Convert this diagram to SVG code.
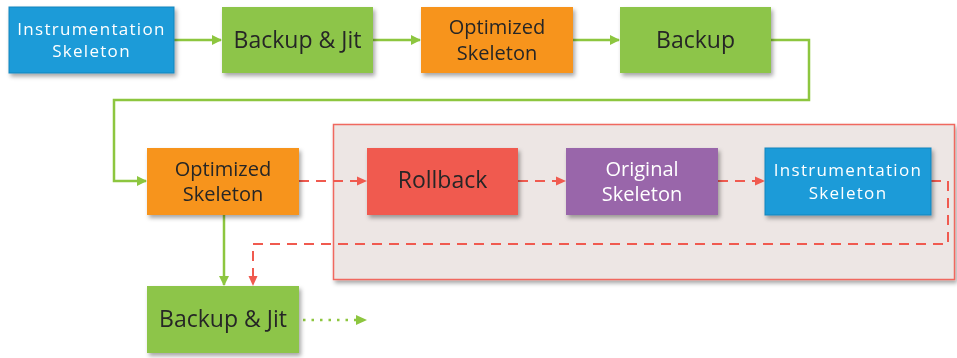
<svg xmlns="http://www.w3.org/2000/svg" width="957" height="358" viewBox="0 0 957 358">
<style>
text{font-family:"Open Sans","Noto Sans","DejaVu Sans",sans-serif;text-anchor:middle}
.dk{fill:#262626}
.wt{fill:#ffffff}
.big{font-size:23px}
.mid{font-size:20px}
.ins{font-size:17px;letter-spacing:1.3px}
.box{filter:url(#sh)}
.g{stroke:#8dc63f;stroke-width:2.5;fill:none}
.r{stroke:#f05a4f;stroke-width:2;fill:none;stroke-dasharray:10 7}
.dot{stroke:#8dc63f;stroke-width:2.5;fill:none;stroke-dasharray:2.5 6}
</style>
<defs>
<filter id="sh" x="-10%" y="-10%" width="125%" height="135%">
<feDropShadow dx="2" dy="3" stdDeviation="2" flood-color="#000" flood-opacity="0.35"/>
</filter>
<marker id="ag" markerWidth="10" markerHeight="10" refX="9" refY="5" orient="auto" markerUnits="userSpaceOnUse">
<path d="M0,0 L10,5 L0,10 Z" fill="#8dc63f"/>
</marker>
<marker id="ar" markerWidth="10" markerHeight="10" refX="9" refY="5" orient="auto" markerUnits="userSpaceOnUse">
<path d="M0,0.5 L10,5 L0,9.5 Z" fill="#f05a4f"/>
</marker>
</defs>
<rect x="0" y="0" width="957" height="358" fill="#ffffff"/>

<g id="rollback-region">
<rect x="333.5" y="124.5" width="621" height="155" fill="#ede6e4" stroke="#f0685e" stroke-width="1.5" filter="url(#sh)"/>
</g>

<g id="connectors">
<line class="g" x1="174" y1="40" x2="221" y2="40" marker-end="url(#ag)"/>
<line class="g" x1="373" y1="40" x2="420" y2="40" marker-end="url(#ag)"/>
<line class="g" x1="573" y1="40" x2="619" y2="40" marker-end="url(#ag)"/>
<polyline class="g" points="771,40 809,40 809,100 114,100 114,181 146,181" marker-end="url(#ag)"/>
<line class="g" x1="224" y1="215" x2="224" y2="285" marker-end="url(#ag)"/>
<line class="r" x1="299" y1="181" x2="366" y2="181" marker-end="url(#ar)"/>
<line class="r" x1="518" y1="181" x2="565" y2="181" marker-end="url(#ar)"/>
<line class="r" x1="718" y1="181" x2="764" y2="181" marker-end="url(#ar)"/>
<polyline class="r" points="931,181 948,181 948,244 253,244 253,285" marker-end="url(#ar)"/>
<line class="dot" x1="303" y1="320" x2="358" y2="320"/>
<path d="M356,315 L367,320 L356,325 Z" fill="#8dc63f"/>
</g>

<g id="n1" class="box">
<rect x="9" y="7" width="165" height="66" fill="#1a9bd8" stroke="#1585bd" stroke-width="1"/>
<text class="wt ins" x="91.5" y="35">Instrumentation</text>
<text class="wt ins" x="91.5" y="57">Skeleton</text>
</g>
<g id="n2" class="box">
<rect x="222" y="7" width="151" height="66" fill="#8dc54a"/>
<text class="dk big" x="297.5" y="48">Backup &amp; Jit</text>
</g>
<g id="n3" class="box">
<rect x="421" y="7" width="152" height="66" fill="#f7941e"/>
<text class="dk mid" x="497" y="34">Optimized</text>
<text class="dk mid" x="497" y="60">Skeleton</text>
</g>
<g id="n4" class="box">
<rect x="620" y="7" width="151" height="66" fill="#8dc54a"/>
<text class="dk big" x="695.5" y="48">Backup</text>
</g>
<g id="n5" class="box">
<rect x="147" y="148" width="152" height="67" fill="#f7941e"/>
<text class="dk mid" x="223" y="176">Optimized</text>
<text class="dk mid" x="223" y="201">Skeleton</text>
</g>
<g id="n6" class="box">
<rect x="367" y="148" width="151" height="67" fill="#f05a50"/>
<text class="dk big" x="442.5" y="188">Rollback</text>
</g>
<g id="n7" class="box">
<rect x="566" y="148" width="152" height="67" fill="#9966aa"/>
<text class="wt mid" x="642" y="176">Original</text>
<text class="wt mid" x="642" y="200.5">Skeleton</text>
</g>
<g id="n8" class="box">
<rect x="765" y="148" width="166" height="67" fill="#1a9bd8" stroke="#1585bd" stroke-width="1"/>
<text class="wt ins" x="848" y="176">Instrumentation</text>
<text class="wt ins" x="848" y="199">Skeleton</text>
</g>
<g id="n9" class="box">
<rect x="147" y="286" width="152" height="67" fill="#8dc54a"/>
<text class="dk big" x="223" y="327">Backup &amp; Jit</text>
</g>
</svg>
